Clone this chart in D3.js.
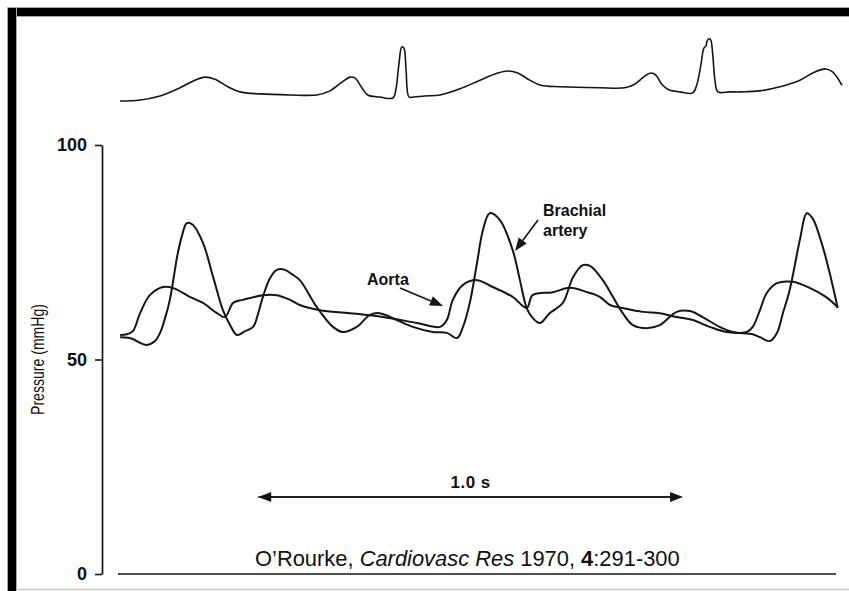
<!DOCTYPE html>
<html>
<head>
<meta charset="utf-8">
<script src="https://cdn.jsdelivr.net/npm/d3@7"></script>
<style>
  html, body { margin: 0; padding: 0; background: #fff; }
  svg { display: block; }
  text { font-family: "Liberation Sans", Arial, Helvetica, sans-serif; fill: #111; }
</style>
</head>
<body>
<svg id="chart" width="849" height="591"></svg>
<script>
// Time in seconds, pressure in mmHg, ECG in mV.
const aortaTime = [0.005,0.021,0.035,0.052,0.075,0.106,0.129,0.169,0.200,0.233,0.252,0.271,0.294,0.341,0.374,0.405,0.428,0.475,0.546,0.624,0.704,0.758,0.774,0.788,0.812,0.845,0.882,0.929,0.962,0.976,1.024,1.064,1.104,1.134,1.158,1.188,1.235,1.275,1.315,1.353,1.393,1.433,1.480,1.494,1.511,1.527,1.551,1.588,1.628,1.666,1.694];
const aortaPressure = [55.7,55.9,56.6,60.8,65.0,66.9,66.7,64.6,63.2,60.8,59.9,63.2,63.9,65.0,65.0,63.9,62.7,61.5,60.8,59.9,58.5,57.6,59.2,63.9,67.4,68.5,66.9,64.6,62.0,65.0,65.7,66.7,65.7,64.6,62.7,62.0,61.1,60.8,59.9,59.2,57.6,56.4,56.4,57.6,61.5,65.5,67.8,68.1,66.7,64.6,62.2];

const brachialTime = [0.005,0.028,0.068,0.087,0.099,0.111,0.122,0.134,0.139,0.151,0.162,0.176,0.200,0.224,0.247,0.264,0.280,0.299,0.318,0.329,0.341,0.358,0.374,0.393,0.409,0.428,0.468,0.506,0.529,0.562,0.593,0.616,0.656,0.694,0.741,0.774,0.798,0.812,0.828,0.845,0.859,0.875,0.899,0.929,0.946,0.962,0.976,0.993,1.016,1.047,1.071,1.094,1.111,1.141,1.165,1.188,1.212,1.245,1.275,1.315,1.346,1.376,1.416,1.447,1.494,1.511,1.534,1.551,1.565,1.581,1.605,1.621,1.635,1.659,1.675,1.694];
const brachialPressure = [55.2,55.0,53.4,54.3,56.2,59.7,63.9,70.9,73.9,79.0,81.8,81.4,77.2,69.2,61.5,58.0,55.7,56.6,57.6,60.4,64.6,69.0,70.9,70.9,69.9,68.5,62.2,57.6,56.4,57.6,60.4,60.8,59.2,57.6,56.4,56.2,55.0,57.6,63.2,72.5,80.2,84.1,82.5,75.5,68.5,62.0,59.7,58.5,60.8,63.2,69.2,72.0,71.8,68.5,64.6,60.8,58.0,57.3,58.0,61.1,61.3,59.9,57.6,56.4,55.9,55.2,54.3,56.2,60.8,66.2,77.9,84.1,82.9,76.2,70.2,62.0];

const ecgTime = [0.005,0.052,0.099,0.146,0.181,0.205,0.228,0.259,0.287,0.334,0.405,0.468,0.499,0.527,0.546,0.558,0.574,0.588,0.616,0.647,0.654,0.661,0.668,0.673,0.678,0.685,0.696,0.722,0.758,0.805,0.852,0.894,0.918,0.941,0.969,0.995,1.040,1.134,1.193,1.216,1.240,1.254,1.266,1.280,1.296,1.322,1.353,1.362,1.372,1.379,1.384,1.386,1.391,1.395,1.400,1.405,1.412,1.440,1.468,1.511,1.558,1.605,1.640,1.666,1.682,1.704];
const ecgVoltage = [-0.06,-0.04,0.04,0.20,0.35,0.41,0.37,0.22,0.12,0.08,0.06,0.06,0.14,0.31,0.41,0.39,0.20,0.06,0.02,0.00,0.16,0.65,1.00,0.98,0.55,0.02,0.02,0.04,0.06,0.18,0.35,0.49,0.53,0.49,0.35,0.25,0.22,0.20,0.20,0.27,0.43,0.49,0.45,0.27,0.16,0.12,0.10,0.25,0.65,0.98,1.02,1.10,1.16,1.14,0.84,0.35,0.12,0.12,0.12,0.14,0.22,0.35,0.51,0.57,0.51,0.25];

const pressureTicks = [0, 50, 100];
const timeExtent = [0, 1.69];
const scaleBarTime = [0.33, 1.33];
const scaleBarLabel = "1.0 s";
const yAxisTitle = "Pressure (mmHg)";

const ink = "#151515";
const svg = d3.select("#chart");

// Page frame: heavy black rule along the top and the left edge
svg.append("rect").attr("x", 7.5).attr("y", 7.5).attr("width", 842).attr("height", 9)
  .attr("fill", "#000").attr("stroke", "#aaa").attr("stroke-width", 1);
svg.append("rect").attr("x", 7.5).attr("y", 7.5).attr("width", 9).attr("height", 590)
  .attr("fill", "#000").attr("stroke", "#aaa").attr("stroke-width", 1);
svg.append("line").attr("x1", 16).attr("x2", 849).attr("y1", 589.5).attr("y2", 589.5)
  .attr("stroke", "#c8c8c8").attr("stroke-width", 1.5);

const x = d3.scaleLinear().domain(timeExtent).range([118, 836]);
const y = d3.scaleLinear().domain([0, 100]).range([574, 145]);
const ecgY = d3.scaleLinear().domain([0, 1]).range([98, 47]);

// Pressure axis
const yAxis = d3.axisLeft(y).tickValues(pressureTicks).tickSize(7).tickSizeOuter(0).tickPadding(8);
const gy = svg.append("g").attr("transform", "translate(102,0)").call(yAxis);
gy.select(".domain").attr("stroke", ink).attr("stroke-width", 1.7);
gy.selectAll(".tick line").attr("stroke", ink).attr("stroke-width", 1.6);
gy.selectAll(".tick text").attr("font-size", 18).attr("font-weight", "bold")
  .attr("fill", ink).style("font-family", '"Liberation Sans", Arial, sans-serif');

// Time baseline
svg.append("path")
  .attr("d", d3.line()([[x(timeExtent[0]), y(0)], [x(timeExtent[1]), y(0)]]))
  .attr("stroke", ink).attr("stroke-width", 1.7).attr("fill", "none");

svg.append("text")
  .attr("transform", "translate(44,359.5) rotate(-90)")
  .attr("text-anchor", "middle")
  .attr("font-size", 18)
  .attr("textLength", 111).attr("lengthAdjust", "spacingAndGlyphs")
  .text(yAxisTitle);

// Traces
const curve = d3.curveCatmullRom.alpha(0.5);
const pressureLine = d3.line().x(d => x(d[0])).y(d => y(d[1])).curve(curve);
const ecgLine = d3.line().x(d => x(d[0])).y(d => ecgY(d[1])).curve(curve);

svg.append("path").datum(d3.zip(ecgTime, ecgVoltage))
  .attr("d", ecgLine).attr("fill", "none").attr("stroke", ink)
  .attr("stroke-width", 1.6).attr("stroke-linejoin", "round");

svg.append("path").datum(d3.zip(aortaTime, aortaPressure))
  .attr("d", pressureLine).attr("fill", "none").attr("stroke", ink)
  .attr("stroke-width", 2).attr("stroke-linejoin", "round");

svg.append("path").datum(d3.zip(brachialTime, brachialPressure))
  .attr("d", pressureLine).attr("fill", "none").attr("stroke", ink)
  .attr("stroke-width", 2).attr("stroke-linejoin", "round");

// Arrow helper: line with a filled triangular head at (x2, y2)
function arrow(x1, y1, x2, y2, len, half, head2) {
  const ang = Math.atan2(y2 - y1, x2 - x1);
  const bx = x2 - len * Math.cos(ang), by = y2 - len * Math.sin(ang);
  svg.append("line").attr("x1", x1).attr("y1", y1).attr("x2", bx).attr("y2", by)
    .attr("stroke", ink).attr("stroke-width", 1.6);
  const tri = (tx, ty, a) => {
    const cx = tx - len * Math.cos(a), cy = ty - len * Math.sin(a);
    return [[tx, ty],
            [cx + half * Math.sin(a), cy - half * Math.cos(a)],
            [cx - half * Math.sin(a), cy + half * Math.cos(a)]];
  };
  svg.append("path").attr("d", d3.line()(tri(x2, y2, ang)) + "Z").attr("fill", ink);
  if (head2) {
    svg.append("path").attr("d", d3.line()(tri(x1, y1, ang + Math.PI)) + "Z").attr("fill", ink);
  }
}

// Trace labels
svg.append("text").attr("x", 367).attr("y", 285).attr("font-size", 16)
  .attr("font-weight", "bold").text("Aorta");
arrow(400, 288, 443, 306, 13, 5);

const bl = svg.append("text").attr("x", 543).attr("y", 216).attr("font-size", 16).attr("font-weight", "bold");
bl.append("tspan").attr("x", 543).text("Brachial");
bl.append("tspan").attr("x", 543).attr("dy", 19.5).text("artery");
arrow(538, 220, 515, 251, 13, 5);

// Time scale bar
const sbY = 497;
svg.append("line")
  .attr("x1", x(scaleBarTime[0]) + 12).attr("x2", x(scaleBarTime[1]) - 12)
  .attr("y1", sbY).attr("y2", sbY).attr("stroke", ink).attr("stroke-width", 1.6);
arrow(x(scaleBarTime[0]), sbY, x(scaleBarTime[1]), sbY, 13, 5, true);
svg.append("text")
  .attr("x", (x(scaleBarTime[0]) + x(scaleBarTime[1])) / 2).attr("y", 488)
  .attr("text-anchor", "middle").attr("font-size", 17).attr("font-weight", "bold")
  .attr("letter-spacing", 0.5).text(scaleBarLabel);

// Source
const src = svg.append("text").attr("x", 255).attr("y", 566).attr("font-size", 21.9);
src.append("tspan").text("O\u2019Rourke, ");
src.append("tspan").attr("font-style", "italic").text("Cardiovasc Res");
src.append("tspan").text(" 1970, ");
src.append("tspan").attr("font-weight", "bold").text("4");
src.append("tspan").text(":291-300");
</script>
</body>
</html>
